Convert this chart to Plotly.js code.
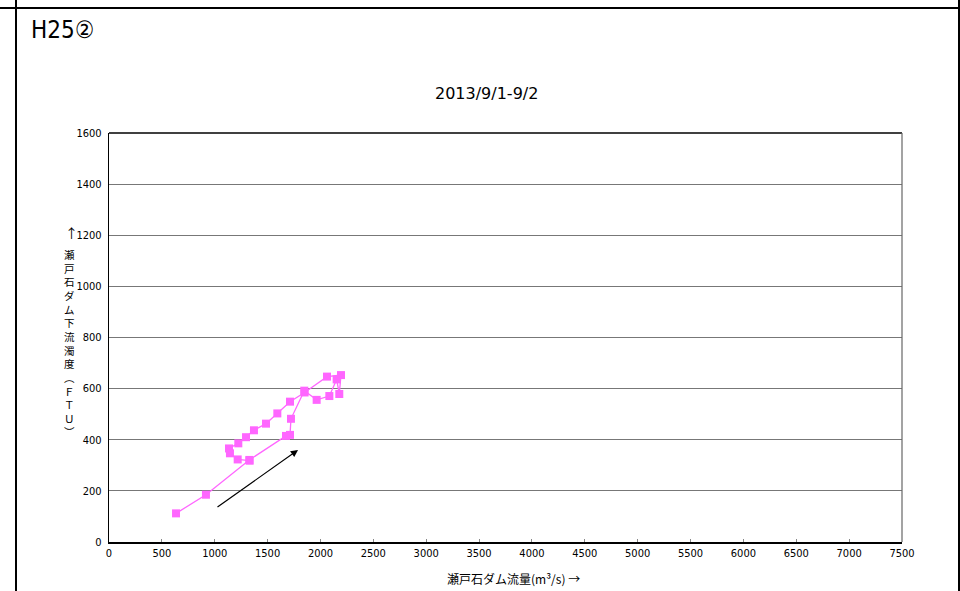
<!DOCTYPE html>
<html>
<head>
<meta charset="utf-8">
<script src="https://cdn.plot.ly/plotly-3.0.1.min.js"></script>
<style>
html,body{margin:0;padding:0;background:#fff;}
#wrap{position:relative;width:960px;height:591px;overflow:hidden;}
#chart{position:absolute;left:0;top:0;width:960px;height:591px;}
.ln{position:absolute;background:#000;}
</style>
</head>
<body>
<div id="wrap">
<div id="chart"></div>
<div class="ln" style="left:0;top:7px;width:960px;height:2px;"></div>
<div class="ln" style="left:15px;top:0;width:2px;height:591px;"></div>
<div class="ln" style="left:958px;top:0;width:2px;height:591px;"></div>
</div>
<script>
// Data (flow m3/s, turbidity FTU), in time order
var flow = [634, 917, 1327, 1674, 1712, 1721, 1847, 1964, 2084, 2153, 2178, 2194, 2062, 1850, 1712, 1592, 1485, 1371, 1296, 1223, 1135, 1144, 1217, 1330];
var turbidity = [112, 185, 321, 415, 419, 482, 592, 556, 571, 636, 579, 653, 647, 585, 549, 503, 463, 437, 410, 386, 366, 347, 323, 318];
var xTicks = [0,500,1000,1500,2000,2500,3000,3500,4000,4500,5000,5500,6000,6500,7000,7500];
var yTicks = [0,200,400,600,800,1000,1200,1400,1600];
var chartLabel = "H25②";
var chartTitle = "2013/9/1-9/2";
var xTitle = "瀬戸石ダム流量(m³/s) →";
var yTitleChars = ["瀬","戸","石","ダ","ム","下","流","濁","度","︵","Ｆ","Ｔ","Ｕ","︶"];
var arrowFrom = [1012, 133];
var arrowTo = [1788, 360];

var FC = '"DejaVu Sans Condensed", "Liberation Sans Narrow", "Noto Sans CJK JP", sans-serif';
var FT = '"DejaVu Sans", "Noto Sans CJK JP", sans-serif';
var FJ = '"Noto Sans CJK JP", sans-serif';

var trace = {
  x: flow, y: turbidity, type: 'scatter', mode: 'lines+markers',
  line: {color: '#ff66ff', width: 1.3},
  marker: {symbol: 'square', size: 8, color: '#ff66ff'},
  hoverinfo: 'x+y'
};

function px2paperX(p){ return (p-109)/793; }
function px2paperY(p){ return (542-p)/409; }

var layout = {
  width: 960, height: 591,
  margin: {l: 109, r: 58, t: 133, b: 49},
  paper_bgcolor: '#fff', plot_bgcolor: '#fff',
  showlegend: false,
  xaxis: {
    range: [0, 7500], tickvals: xTicks, ticktext: xTicks.map(String),
    showgrid: false, zeroline: false,
    showline: true, linecolor: '#000', linewidth: 1.5, mirror: false,
    ticks: 'inside', ticklen: 3, tickcolor: '#888',
    tickfont: {family: FC, size: 11, color: '#000'},
    fixedrange: true
  },
  yaxis: {
    range: [0, 1600], tickvals: yTicks, ticktext: yTicks.map(String),
    showgrid: true, gridcolor: '#777', gridwidth: 1,
    zeroline: false,
    showline: true, linecolor: '#000', linewidth: 1.2,
    ticks: '', tickfont: {family: FC, size: 11, color: '#000'},
    ticklabelstandoff: 4,
    fixedrange: true
  },
  shapes: [
    {type:'line', xref:'paper', yref:'paper', x0:0, x1:1, y0:1, y1:1, line:{color:'#000', width:1.5}},
    {type:'line', xref:'paper', yref:'paper', x0:1, x1:1, y0:0, y1:1, line:{color:'#666', width:1.2}}
  ],
  annotations: [
    {text: chartLabel, xref:'paper', yref:'paper', x: px2paperX(29), y: px2paperY(30),
     xanchor:'left', yanchor:'middle', showarrow:false, font:{family: FC, size: 24, color:'#000'}},
    {text: chartTitle, xref:'paper', yref:'paper', x: px2paperX(486), y: px2paperY(93),
     xanchor:'center', yanchor:'middle', showarrow:false, font:{family: FT, size: 16, color:'#000'}},
    {text: xTitle, xref:'paper', yref:'paper', x: px2paperX(513), y: px2paperY(578),
     xanchor:'center', yanchor:'middle', showarrow:false, font:{family: FJ, size: 12, color:'#000'}},
    {text: '↑', xref:'paper', yref:'paper', x: px2paperX(71), y: px2paperY(232),
     xanchor:'center', yanchor:'middle', showarrow:false, font:{family: FJ, size: 13, color:'#000'}},
    {text: yTitleChars.join('<br>'), xref:'paper', yref:'paper', x: px2paperX(69), y: px2paperY(343),
     xanchor:'center', yanchor:'middle', showarrow:false, font:{family: FJ, size: 10.5, color:'#000'}},
    {x: arrowTo[0], y: arrowTo[1], ax: arrowFrom[0], ay: arrowFrom[1], xref:'x', yref:'y', axref:'x', ayref:'y',
     text:'', showarrow:true, arrowhead:2, arrowsize:1.2, arrowwidth:1.2, arrowcolor:'#000'}
  ]
};

Plotly.newPlot('chart', [trace], layout, {displayModeBar:false, staticPlot:true});
</script>
</body>
</html>
